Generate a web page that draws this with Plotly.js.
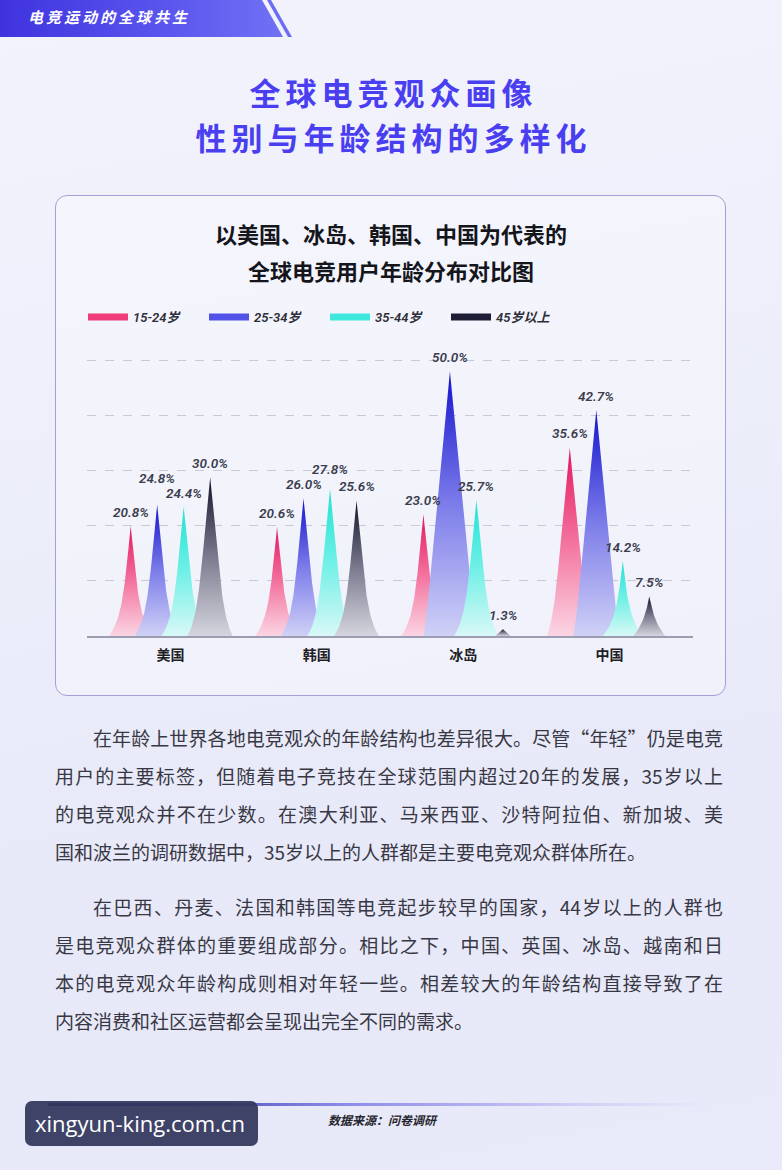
<!DOCTYPE html>
<html>
<head>
<meta charset="utf-8">
<script src="https://cdn.plot.ly/plotly-3.0.1.min.js"></script>
<style>
  html, body { margin: 0; padding: 0; }
  #page { position: relative; width: 782px; height: 1170px; overflow: hidden;
    background: linear-gradient(170deg, #f3f3fc 0%, #eceefa 40%, #e7e8f8 75%, #e9eaf9 100%);
    font-family: "Noto Sans CJK SC", "Noto Sans", sans-serif; }
  .banner { position: absolute; left: 0; top: 0; width: 300px; height: 37px;
    clip-path: polygon(0 0, 262px 0, 283px 37px, 0 37px);
    background: linear-gradient(90deg, #3f33de 0%, #5a55ee 55%, #7475f6 100%); }
  .stripe { position: absolute; left: 0; top: 0; width: 300px; height: 37px;
    clip-path: polygon(267px 0, 271px 0, 292px 37px, 288px 37px); background: #6d6df2; }
  .bannertext { position: absolute; left: 28px; top: 6px; color: #fff; font-size: 15px; font-weight: 700;
    letter-spacing: 3px; font-style: italic; line-height: 22px; }
  .heading { position: absolute; left: 0; width: 782px; text-align: center; color: #4a3ff0;
    font-size: 31px; font-weight: 700; letter-spacing: 5px; text-indent: 5px; line-height: 44px; height: 44px; white-space: nowrap; }
  .card { position: absolute; left: 55px; top: 195px; width: 669px; height: 499px;
    border: 1.6px solid #a49ed9; border-radius: 12px; background: rgba(255,255,255,0.32); }
  #chart { position: absolute; left: 0; top: 0; width: 782px; height: 1170px; }
  .para { position: absolute; left: 55px; width: 668px; color: #383844; font-size: 19px; }
  .para div { height: 38px; line-height: 38px; white-space: nowrap; text-align: justify; text-align-last: justify; }
  .para div.first { padding-left: 38px; }
  .para div.last { text-align-last: left; }
  .footline { position: absolute; left: 48px; top: 1103px; width: 660px; height: 3px;
    background: linear-gradient(90deg, #262a66 0%, #3b3fae 15%, #8d8be8 45%, rgba(190,188,245,0.6) 80%, rgba(220,220,250,0) 100%); }
  .source { position: absolute; left: 328px; top: 1111px; font-size: 12px; font-weight: 700; color: #26262e; font-style: italic; }
  .wm { position: absolute; left: 25px; top: 1101px; width: 233px; height: 45px; border-radius: 7px;
    background: rgba(50,54,92,0.93); color: #fff; font-family: "Open Sans", "DejaVu Sans", sans-serif;
    font-size: 22px; line-height: 45px; padding-left: 10px; box-sizing: border-box; }
</style>
</head>
<body>
<div id="page">
  <div class="banner"></div>
  <div class="stripe"></div>
  <div class="bannertext">电竞运动的全球共生</div>
  <div class="heading" style="top:70px">全球电竞观众画像</div>
  <div class="heading" style="top:115px">性别与年龄结构的多样化</div>
  <div class="card"></div>
  <div id="chart"></div>
  <div class="para" style="top:719px">
    <div class="first">在年龄上世界各地电竞观众的年龄结构也差异很大。尽管“年轻”仍是电竞</div>
    <div>用户的主要标签，但随着电子竞技在全球范围内超过20年的发展，35岁以上</div>
    <div>的电竞观众并不在少数。在澳大利亚、马来西亚、沙特阿拉伯、新加坡、美</div>
    <div class="last">国和波兰的调研数据中，35岁以上的人群都是主要电竞观众群体所在。</div>
  </div>
  <div class="para" style="top:888px">
    <div class="first">在巴西、丹麦、法国和韩国等电竞起步较早的国家，44岁以上的人群也</div>
    <div>是电竞观众群体的重要组成部分。相比之下，中国、英国、冰岛、越南和日</div>
    <div>本的电竞观众年龄构成则相对年轻一些。相差较大的年龄结构直接导致了在</div>
    <div class="last">内容消费和社区运营都会呈现出完全不同的需求。</div>
  </div>
  <div class="footline"></div>
  <div class="source">数据来源：问卷调研</div>
  <div class="wm">xingyun-king.com.cn</div>
</div>
<script>
// ---- data ----
const categories = ['美国', '韩国', '冰岛', '中国'];
const seriesNames = ['15-24岁', '25-34岁', '35-44岁', '45岁以上'];
const age15_24 = [20.8, 20.6, 23.0, 35.6];
const age25_34 = [24.8, 26.0, 50.0, 42.7];
const age35_44 = [24.4, 27.8, 25.7, 14.2];
const age45plus = [30.0, 25.6, 1.3, 7.5];
const seriesValues = [age15_24, age25_34, age35_44, age45plus];
const titleLine1 = '以美国、冰岛、韩国、中国为代表的';
const titleLine2 = '全球电竞用户年龄分布对比图';

// ---- styles ----
const legendColors = ['#ef3d7b', '#5252e8', '#3ee8dc', '#1d1d36'];
const gradients = [
  [[0, '#fbd5e3'], [0.5, '#f3729e'], [1, '#e3175e']],
  [[0, '#d0d1f6'], [0.5, '#7c7cea'], [1, '#1313cc']],
  [[0, '#d8f8f6'], [0.5, '#70f0e6'], [1, '#1de2d5']],
  [[0, '#d5d5df'], [0.5, '#7b7b8f'], [1, '#11112a']]
];

const FIG_W = 782, FIG_H = 1170;
const PL = 87, PR = 693, PT = 340, PB = 636;
const xRange = [-0.57, 3.57];
const yRange = [0, 55.9];
const pxPerX = (PR - PL) / (xRange[1] - xRange[0]);
const pxPerY = (PB - PT) / (yRange[1] - yRange[0]);
const slot = 26.5 / pxPerX;

function spike(xc, v) {
  const Hp = v * pxPerY;
  const s = 0.095, k = 18;
  const W = Math.max(5 + 18 * (1 - Math.exp(-v / 8)), s * Hp + 1);
  const F = W - s * Hp;
  const eH = Math.exp(-Hp / k);
  const hw = y => s * (Hp - y) + F * (Math.exp(-y / k) - eH) / (1 - eH);
  const N = 90;
  const xs = [], ys = [];
  for (let i = 0; i <= N; i++) { const y = Hp * i / N; xs.push(xc - hw(y) / pxPerX); ys.push(y / pxPerY); }
  for (let i = N; i >= 0; i--) { const y = Hp * i / N; xs.push(xc + hw(y) / pxPerX); ys.push(y / pxPerY); }
  return {xs, ys};
}

const traces = [];
const annotations = [];
const labelFont = {family: 'Roboto, "DejaVu Sans", sans-serif', size: 13.5, color: '#3b3d4e', style: 'italic', weight: 600};

categories.forEach((cat, gi) => {
  const shifts = [];
  seriesValues.forEach((vals, si) => {
    const v = vals[gi];
    const xc = gi + (si - 1.5) * slot;
    const p = spike(xc, v);
    traces.push({
      type: 'scatter', mode: 'lines', x: p.xs, y: p.ys, fill: 'toself',
      line: {width: 0, color: legendColors[si]},
      fillgradient: {type: 'vertical', start: 0, stop: v, colorscale: gradients[si]},
      showlegend: false, hoverinfo: 'skip', name: seriesNames[si]
    });
    shifts.push(v * pxPerY + 14);
  });
  // simple label collision avoidance between neighbours
  for (let pass = 0; pass < 2; pass++) {
    for (let si = 1; si < 4; si++) {
      const a = shifts[si - 1], b = shifts[si];
      if (Math.abs(a - b) < 15) {
        if (seriesValues[si][gi] >= seriesValues[si - 1][gi]) shifts[si] = a + 15; else shifts[si - 1] = b + 15;
      }
    }
  }
  seriesValues.forEach((vals, si) => {
    const v = vals[gi];
    annotations.push({
      x: gi + (si - 1.5) * slot, y: 0, xref: 'x', yref: 'y', yanchor: 'middle', xanchor: 'center',
      yshift: shifts[si], text: v.toFixed(1) + '%', showarrow: false, font: labelFont
    });
  });
});

seriesNames.forEach((n, si) => {
  traces.push({type: 'scatter', mode: 'lines', x: [null], y: [null], name: n,
    line: {color: legendColors[si], width: 7}, showlegend: true, hoverinfo: 'skip'});
});

const titleFont = {family: '"Noto Sans CJK SC", sans-serif', size: 22, color: '#15151c', weight: 700};
annotations.push({
  xref: 'paper', yref: 'paper', x: (391 - PL) / (PR - PL), y: (PB - 270) / (PB - PT),
  xanchor: 'center', yanchor: 'middle', showarrow: false, text: titleLine2, font: titleFont
});

const layout = {
  width: FIG_W, height: FIG_H,
  paper_bgcolor: 'rgba(0,0,0,0)', plot_bgcolor: 'rgba(0,0,0,0)',
  margin: {l: PL, r: FIG_W - PR, t: PT, b: FIG_H - PB, pad: 0},
  title: {
    text: titleLine1,
    x: 0.5, xref: 'container', xanchor: 'center',
    y: 1 - 235 / FIG_H, yref: 'container', yanchor: 'middle',
    font: titleFont
  },
  showlegend: true,
  legend: {
    orientation: 'h', x: -4 / (PR - PL), xanchor: 'left', y: (PB - 317) / (PB - PT), yanchor: 'middle',
    entrywidth: 66, entrywidthmode: 'pixels', bgcolor: 'rgba(0,0,0,0)', itemwidth: 40,
    font: {family: 'Roboto, "Noto Sans CJK SC", sans-serif', size: 13, color: '#2e2e3a', style: 'italic', weight: 600}
  },
  xaxis: {
    range: xRange, showgrid: false, zeroline: false, showline: true, linecolor: '#9d9db2', linewidth: 1.5,
    tickvals: [0, 1, 2, 3], ticktext: categories, ticks: '', ticklabelstandoff: 6,
    tickfont: {family: '"Noto Sans CJK SC", sans-serif', size: 14, color: '#1e1e26', weight: 700}
  },
  yaxis: {
    range: yRange, showticklabels: false, zeroline: false, showline: false, ticks: '',
    showgrid: true, gridcolor: '#c8c8d6', griddash: 'dash', gridwidth: 1, tick0: 0, dtick: 10.4
  },
  annotations: annotations,
  hovermode: false
};

Plotly.newPlot('chart', traces, layout, {staticPlot: true, displayModeBar: false});
</script>
</body>
</html>
